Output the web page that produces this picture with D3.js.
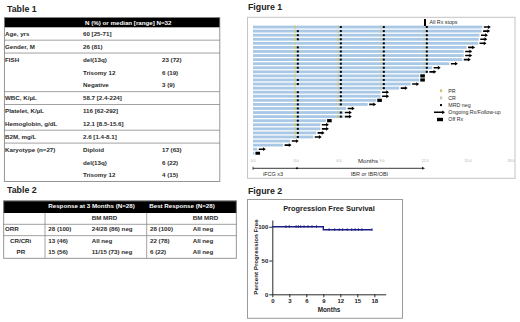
<!DOCTYPE html>
<html>
<head>
<meta charset="utf-8">
<script src="https://cdn.jsdelivr.net/npm/d3@7"></script>
<style>
body { margin: 0; background: #fff; }
svg { display: block; font-family: Arial, "Liberation Sans", sans-serif; }
</style>
</head>
<body>
<div class="canvas"></div>
<script>
/**
 * Data
 */
// Table 1
const t1Header = "N (%) or median [range] N=32"
const t1Labels = ["Age, yrs", "Gender, M", "FISH", "", "", "WBC, K/µL", "Platelet, K/µL", "Hemoglobin, g/dL", "B2M, mg/L", "Karyotype (n=27)", "", ""]
const t1Values = ["60 [25-71]", "26 (81)", "del(13q)", "Trisomy 12", "Negative", "58.7 [2.4-224]", "116 [62-292]", "12.1 [8.5-15.6]", "2.6 [1.4-8.1]", "Diploid", "del(13q)", "Trisomy 12"]
const t1Counts = ["", "", "23 (72)", "6 (19)", "3 (9)", "", "", "", "", "17 (63)", "6 (22)", "4 (15)"]
const t1RulesAfter = [0, 1, 4, 5, 7, 8]

// Table 2
const t2Header = ["Response at 3 Months (N=28)", "Best Response (N=28)"]
const t2Labels = ["", "ORR", "CR/CRi", "PR"]
const t2At3 = ["", "28 (100)", "13 (46)", "15 (56)"]
const t2At3Mrd = ["BM MRD", "24/28 (86) neg", "All neg", "11/15 (73) neg"]
const t2Best = ["", "28 (100)", "22 (78)", "6 (22)"]
const t2BestMrd = ["BM MRD", "All neg", "All neg", "All neg"]

// Figure 1 swimmer plot (months on study, one bar per patient)
const swimMonths = [16.0, 15.95, 15.8, 15.75, 15.7, 14.9, 14.7, 14.7, 14.6, 13.7, 12.5, 12.2,
                    11.6, 11.6, 11.0, 10.2, 8.9, 8.9, 8.6, 8.0, 6.5, 6.3, 6.3, 5.1,
                    4.7, 4.7, 4.4, 4.2, 2.6, 2.1, 0.3, 0.1]
const offRxRows = [12, 13, 18, 23, 31]
const checkpoints = [3, 6, 9, 12]
const prRows = [
    [0, 2, 3, 5, 6, 8, 10, 12, 14, 16, 18, 20, 22, 24, 26],  // 3 months
    [3, 8, 14, 18, 22],                                      // 6 months
    [8],                                                     // 9 months
    []                                                       // 12 months
]
const mrdPosRows = [[0, 4, 12, 15], [20], [], []]
const swimTicks = [0, 3, 6, 9, 12, 15, 18]
const legendItems = ["PR", "CR", "MRD neg", "Ongoing Rx/Follow-up", "Off Rx"]

// Figure 2 PFS
const kmMonths = [0, 9, 17.6]
const kmPct = [100, 95.5, 95.5]
const censorMonths = [2.4, 3.0, 4.2, 4.6, 5.0, 5.6, 6.3, 7.0, 7.8, 10.0, 11.0, 11.8, 12.4, 13.2, 14.0, 14.6, 15.2, 15.8, 17.6]
const pfsTicksX = [0, 3, 6, 9, 12, 15, 18]
const pfsTicksY = [0, 50, 100]

/**
 * Canvas
 */
const svg = d3.select(".canvas")
    .append("svg")
    .attr("width", 520)
    .attr("height", 322)

const ink = "#2b2b2b"

const title = (x, y, t) => svg.append("text")
    .attr("x", x).attr("y", y)
    .attr("font-size", 8.8).attr("font-weight", "bold")
    .attr("fill", "#222")
    .text(t)

/**
 * Table 1
 */
title(7, 12, "Table 1")

const t1 = svg.append("g")
const t1y = d3.scaleBand().domain(d3.range(t1Labels.length)).range([27.3, 181.7])

t1.append("rect")
    .attr("x", 4).attr("y", 17.3).attr("width", 216).attr("height", 10)
    .attr("fill", "#000")
t1.append("text")
    .attr("x", 85).attr("y", 24.6)
    .attr("font-size", 6.2).attr("font-weight", "bold").attr("fill", "#fff")
    .text(t1Header)

t1.selectAll(".rule")
    .data(t1RulesAfter)
    .enter().append("line")
    .attr("x1", 4).attr("x2", 220)
    .attr("y1", d => t1y(d) + t1y.bandwidth())
    .attr("y2", d => t1y(d) + t1y.bandwidth())
    .attr("stroke", "#8a8a8a").attr("stroke-width", 0.8)

t1.append("rect")
    .attr("x", 4.4).attr("y", 17.5).attr("width", 215.4).attr("height", 164)
    .attr("fill", "none").attr("stroke", "#8a8a8a").attr("stroke-width", 0.9)

const t1cols = [[t1Labels, 5], [t1Values, 83], [t1Counts, 162]]
t1cols.forEach(([arr, x]) => {
    t1.selectAll(null)
        .data(arr)
        .enter().append("text")
        .attr("x", x)
        .attr("y", (d, i) => t1y(i) + t1y.bandwidth() / 2 + 2.2)
        .attr("font-size", 6.2).attr("font-weight", "bold").attr("fill", ink)
        .text(d => d)
})

/**
 * Table 2
 */
title(7, 192.5, "Table 2")

const t2 = svg.append("g")
const t2y = d3.scaleBand().domain(d3.range(t2Labels.length)).range([213, 258.3])

t2.append("rect")
    .attr("x", 3.3).attr("y", 200.7).attr("width", 233.4).attr("height", 12.3)
    .attr("fill", "#000")
t2.selectAll(null)
    .data(t2Header)
    .enter().append("text")
    .attr("x", (d, i) => [91.5, 182][i])
    .attr("y", 207.8)
    .attr("text-anchor", "middle")
    .attr("font-size", 6.2).attr("font-weight", "bold").attr("fill", "#fff")
    .text(d => d)

t2.selectAll(null)
    .data([0, 1])
    .enter().append("line")
    .attr("x1", 3.3).attr("x2", 236.7)
    .attr("y1", d => t2y(d) + t2y.bandwidth())
    .attr("y2", d => t2y(d) + t2y.bandwidth())
    .attr("stroke", "#8a8a8a").attr("stroke-width", 0.8)

t2.selectAll(null)
    .data([45, 146.7])
    .enter().append("line")
    .attr("x1", d => d).attr("x2", d => d)
    .attr("y1", 213).attr("y2", 258.3)
    .attr("stroke", "#8a8a8a").attr("stroke-width", 0.8)

t2.append("rect")
    .attr("x", 3.7).attr("y", 200.9).attr("width", 232.6).attr("height", 57.4)
    .attr("fill", "none").attr("stroke", "#8a8a8a").attr("stroke-width", 0.9)

const t2cols = [[t2Labels, 5], [t2At3, 48.3], [t2At3Mrd, 91.7], [t2Best, 150], [t2BestMrd, 192.7]]
t2cols.forEach(([arr, x], c) => {
    t2.selectAll(null)
        .data(arr)
        .enter().append("text")
        .attr("x", (d, i) => c === 0 ? x + [0, 0, 5, 11.5][i] : x)
        .attr("y", (d, i) => t2y(i) + t2y.bandwidth() / 2 + 1.2)
        .attr("font-size", 6.2).attr("font-weight", "bold").attr("fill", ink)
        .text(d => d)
})

/**
 * Figure 1 - swimmer plot
 */
title(248, 10, "Figure 1")

const f1 = svg.append("g")
f1.append("rect")
    .attr("x", 247.5).attr("y", 17.3).attr("width", 267.5).attr("height", 161)
    .attr("fill", "none").attr("stroke", "#c4c4c4").attr("stroke-width", 1)

const fx = d3.scaleLinear().domain([0, 18]).range([253, 511])
const fy = d3.scaleBand().domain(d3.range(swimMonths.length)).range([25, 155.3])
const barH = 2.8
const mid = i => fy(i) + fy.bandwidth() / 2

f1.selectAll(".bar")
    .data(swimMonths)
    .enter().append("rect")
    .attr("class", "bar")
    .attr("x", fx(0))
    .attr("y", (d, i) => mid(i) - barH / 2)
    .attr("width", d => fx(d) - fx(0))
    .attr("height", barH)
    .attr("fill", "#a9c8e5")

// response + MRD markers at each assessment
const marks = []
checkpoints.forEach((m, k) => {
    swimMonths.forEach((d, i) => {
        if (d > m) marks.push({m, i, pr: prRows[k].includes(i), mrd: !mrdPosRows[k].includes(i)})
    })
})
f1.selectAll(".resp")
    .data(marks)
    .enter().append("rect")
    .attr("x", d => fx(d.m) - 1.8)
    .attr("y", d => mid(d.i) - barH / 2)
    .attr("width", 1.6).attr("height", barH)
    .attr("fill", d => d.pr ? "#cfc768" : "#bccab0")
f1.selectAll(".mrd")
    .data(marks.filter(d => d.mrd))
    .enter().append("rect")
    .attr("x", d => fx(d.m) + 0.8)
    .attr("y", d => mid(d.i) - 1)
    .attr("width", 2).attr("height", 2)
    .attr("fill", "#000")

const arrowPath = (x, y, len) => `M${x},${y - 0.8}h${len - 2.8}v-1.1l2.8,1.9l-2.8,1.9v-1.1h${-(len - 2.8)}z`

f1.selectAll(".end")
    .data(swimMonths.map((d, i) => ({d, i, off: offRxRows.includes(i)})))
    .enter().append("path")
    .attr("d", e => e.off
        ? `M${fx(e.d) + 1},${mid(e.i) - 1.6}h4.6v3.2h-4.6z`
        : arrowPath(fx(e.d) + 1.5, mid(e.i), 7))
    .attr("fill", "#000")

// all Rx stops marker
f1.append("rect")
    .attr("x", fx(12) - 1).attr("y", 19).attr("width", 2).attr("height", 7)
    .attr("fill", "#000")
f1.append("text")
    .attr("x", fx(12) + 4.5).attr("y", 24.3)
    .attr("font-size", 5.3).attr("fill", ink)
    .text("All Rx stops")

// axis labels
f1.selectAll(".tick")
    .data(swimTicks)
    .enter().append("text")
    .attr("x", d => fx(d)).attr("y", 162.3)
    .attr("text-anchor", "middle")
    .attr("font-size", 3.6).attr("fill", "#aaa")
    .text(d => d3.format(".1f")(d))
f1.append("text")
    .attr("x", 368).attr("y", 163.2)
    .attr("text-anchor", "middle")
    .attr("font-size", 6.1).attr("fill", ink)
    .text("Months")

// treatment phase line
f1.append("line")
    .attr("x1", fx(0)).attr("x2", fx(12) - 2)
    .attr("y1", 168.3).attr("y2", 168.3)
    .attr("stroke", "#222").attr("stroke-width", 0.9)
f1.append("path")
    .attr("d", `M${fx(12)},168.3l-3,-1.5v3z`)
    .attr("fill", "#222")
f1.append("circle")
    .attr("cx", fx(3) + 1).attr("cy", 168.3).attr("r", 1)
    .attr("fill", "#000")
f1.append("line")
    .attr("x1", fx(0)).attr("x2", fx(0))
    .attr("y1", 166.8).attr("y2", 169.8)
    .attr("stroke", "#222").attr("stroke-width", 0.8)
f1.append("text")
    .attr("x", 273).attr("y", 175.5)
    .attr("text-anchor", "middle").attr("font-size", 5.5).attr("fill", ink)
    .text("iFCG x3")
f1.append("text")
    .attr("x", 369.5).attr("y", 176)
    .attr("text-anchor", "middle").attr("font-size", 5.5).attr("fill", ink)
    .text("IBR or IBR/OBI")

// legend
const lg = f1.append("g")
const ly = d3.scalePoint().domain(legendItems).range([90.7, 119.5])
lg.selectAll("text")
    .data(legendItems)
    .enter().append("text")
    .attr("x", 448.3).attr("y", d => ly(d) + 1.9)
    .attr("font-size", 5.3).attr("fill", ink)
    .text(d => d)
lg.append("rect").attr("x", ly.domain() && 440).attr("y", ly("PR") - 1.4)
    .attr("width", 2.2).attr("height", 2.8).attr("fill", "#cfc768")
lg.append("rect").attr("x", 440).attr("y", ly("CR") - 1.4)
    .attr("width", 2.2).attr("height", 2.8).attr("fill", "#bccab0")
lg.append("rect").attr("x", 440).attr("y", ly("MRD neg") - 1)
    .attr("width", 2).attr("height", 2).attr("fill", "#000")
lg.append("path").attr("d", arrowPath(434, ly("Ongoing Rx/Follow-up"), 11)).attr("fill", "#000")
lg.append("rect").attr("x", 437).attr("y", ly("Off Rx") - 1.7)
    .attr("width", 6).attr("height", 3.4).attr("fill", "#000")

/**
 * Figure 2 - PFS
 */
title(248, 194, "Figure 2")

const f2 = svg.append("g")
f2.append("rect")
    .attr("x", 247.5).attr("y", 199.5).attr("width", 155).attr("height", 118.8)
    .attr("fill", "none").attr("stroke", "#9a9a9a").attr("stroke-width", 1)

f2.append("text")
    .attr("x", 329).attr("y", 211)
    .attr("text-anchor", "middle")
    .attr("font-size", 7.4).attr("font-weight", "bold").attr("fill", "#222")
    .text("Progression Free Survival")

const kx = d3.scaleLinear().domain([0, 20]).range([272.3, 385.7])
const ky = d3.scaleLinear().domain([0, 110]).range([294.3, 220])

const xAxis = d3.axisBottom(kx).tickValues(pfsTicksX).tickSize(3).tickSizeOuter(0).tickPadding(1.5)
const yAxis = d3.axisLeft(ky).tickValues(pfsTicksY).tickSize(3).tickSizeOuter(0).tickPadding(1)

const xg = f2.append("g").attr("transform", `translate(0,${ky(0)})`).call(xAxis)
const yg = f2.append("g").attr("transform", `translate(${kx(0)},0)`).call(yAxis)
;[xg, yg].forEach(g => {
    g.selectAll("path, line").attr("stroke", "#111").attr("stroke-width", 0.9)
    g.selectAll("text")
        .attr("font-size", 6).attr("font-weight", "bold")
        .attr("font-family", "Arial, 'Liberation Sans', sans-serif")
        .attr("fill", "#222")
})

f2.append("text")
    .attr("x", kx(10)).attr("y", 311.5)
    .attr("text-anchor", "middle")
    .attr("font-size", 6.4).attr("font-weight", "bold").attr("fill", "#222")
    .text("Months")
f2.append("text")
    .attr("transform", "translate(255,257) rotate(-90)")
    .attr("text-anchor", "middle").attr("dominant-baseline", "central")
    .attr("font-size", 6.2).attr("font-weight", "bold").attr("fill", "#222")
    .text("Percent Progression Free")

const km = kmMonths.map((m, i) => ({m, p: kmPct[i]}))
const kmLine = d3.line()
    .x(d => kx(d.m))
    .y(d => ky(d.p))
    .curve(d3.curveStepAfter)

f2.append("path")
    .datum(km)
    .attr("d", kmLine)
    .attr("fill", "none")
    .attr("stroke", "#1c1c82")
    .attr("stroke-width", 1.4)

const pctAt = t => km.filter(d => d.m <= t).pop().p
f2.selectAll(".censor")
    .data(censorMonths)
    .enter().append("line")
    .attr("x1", d => kx(d)).attr("x2", d => kx(d))
    .attr("y1", d => ky(pctAt(d)) - 1.6)
    .attr("y2", d => ky(pctAt(d)) + 1.2)
    .attr("stroke", "#1c1c82").attr("stroke-width", 0.8)
</script>
</body>
</html>
